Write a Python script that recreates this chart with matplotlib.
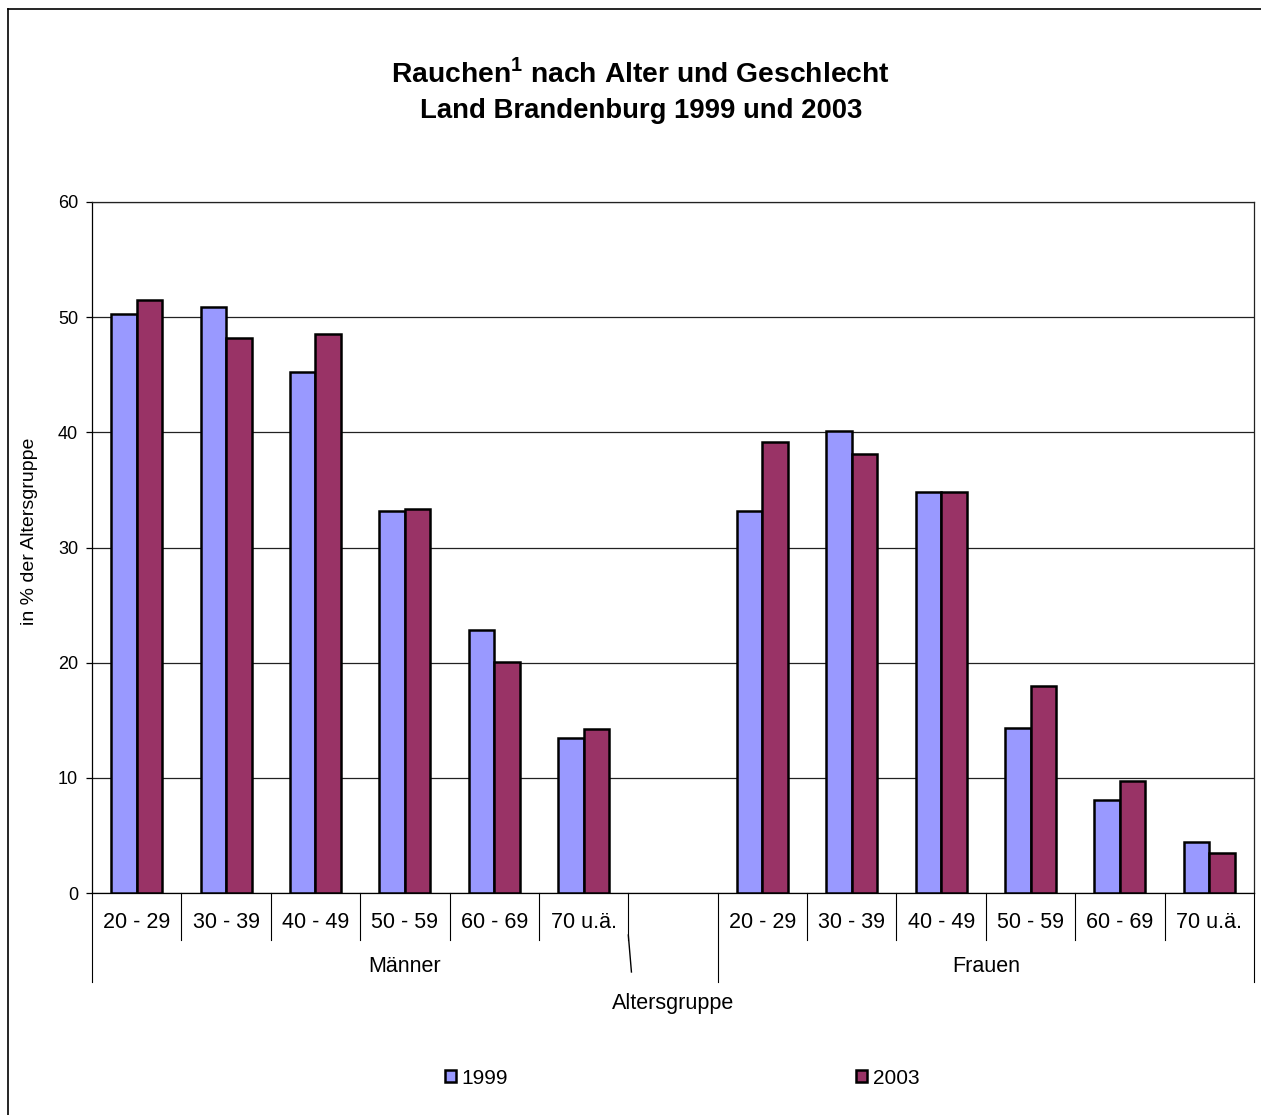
import numpy as np
import matplotlib
matplotlib.use("Agg")
import matplotlib.pyplot as plt
from matplotlib.lines import Line2D
import matplotlib.transforms as mtransforms

plt.rcParams['font.family'] = ['Liberation Sans', 'DejaVu Sans']

age_groups = ["20 - 29", "30 - 39", "40 - 49", "50 - 59", "60 - 69", "70 u.ä."]
groups = ["Männer", "Frauen"]
maenner_1999 = [50.3, 50.9, 45.2, 33.2, 22.8, 13.5]
maenner_2003 = [51.5, 48.2, 48.5, 33.3, 20.1, 14.2]
frauen_1999 = [33.2, 40.1, 34.8, 14.3, 8.1, 4.4]
frauen_2003 = [39.2, 38.1, 34.8, 18.0, 9.7, 3.5]
series_names = ["1999", "2003"]

labels = age_groups + [""] + age_groups
v1999 = np.array(maenner_1999 + [np.nan] + frauen_1999)
v2003 = np.array(maenner_2003 + [np.nan] + frauen_2003)
x = np.arange(len(labels))

fig = plt.figure(figsize=(12.61, 11.15), dpi=100)
ax = fig.add_axes([92/1261, 222/1115, 1162/1261, 691/1115])

bw = 0.286
b1 = ax.bar(x - bw/2, v1999, width=bw, color="#9999FF", edgecolor="black", linewidth=1.8, label=series_names[0], zorder=3)
b2 = ax.bar(x + bw/2, v2003, width=bw, color="#993366", edgecolor="black", linewidth=1.8, label=series_names[1], zorder=3)

ax.set_xlim(-0.5, len(labels) - 0.5)
ax.set_ylim(0, 60)
ax.set_yticks(np.arange(0, 61, 10))
ax.yaxis.grid(True, color="#222222", linewidth=0.9, zorder=0)
ax.set_axisbelow(True)
ax.tick_params(axis='y', labelsize=13, length=4, width=0.9, pad=6)
ax.set_xticks([])
for s in ["top", "right", "left", "bottom"]:
    ax.spines[s].set_linewidth(0.9)
    ax.spines[s].set_color("black")
ax.spines["top"].set_color("#222222")
ax.spines["right"].set_color("#222222")

ax.set_ylabel("in % der Altersgruppe", fontsize=14)
ax.yaxis.set_label_coords(-0.0465, 0.524)

trans = mtransforms.blended_transform_factory(ax.transData, ax.transAxes)
# category labels
for xi, lab in zip(x, labels):
    ax.text(xi, -0.0434, lab, transform=trans, ha="center", va="center", fontsize=15.5, clip_on=False)
# dividers
n = len(labels)
long_bounds = [0, 7, n]
for k in range(0, n + 1):
    xb = k - 0.5
    ybot = -0.1288 if k in long_bounds else -0.068
    ax.add_line(Line2D([xb, xb], [0, ybot], transform=trans, color="black", linewidth=0.8, clip_on=False))
# stray line
ax.add_line(Line2D([5.5, 5.535], [-0.0608, -0.1143], transform=trans, color="black", linewidth=1.0, clip_on=False))
# group labels
ax.text(3.0, -0.107, groups[0], transform=trans, ha="center", va="center", fontsize=15.5, clip_on=False)
ax.text(9.5, -0.107, groups[1], transform=trans, ha="center", va="center", fontsize=15.5, clip_on=False)

fig.text(673/1261, 1 - 1003/1115, "Altersgruppe", ha="center", va="center", fontsize=15.5)

fig.text(640/1261, 1 - 73/1115, r"Rauchen$^{\mathregular{1}}$ nach Alter und Geschlecht", ha="center", va="center",
         fontsize=20.3, fontweight="bold")
fig.text(641/1261, 1 - 111/1115, "Land Brandenburg 1999 und 2003", ha="center", va="center",
         fontsize=19.8, fontweight="bold")

leg = fig.legend(handles=[b1, b2], labels=series_names, loc="center", bbox_to_anchor=(682/1261, 1 - 1078/1115),
                 ncol=2, frameon=False, fontsize=15, handlelength=0.55, handleheight=0.55,
                 handletextpad=0.25, columnspacing=16.7)

# figure border (left and top)
fig.add_artist(Line2D([8/1261, 8/1261], [0, 1 - 9/1115], transform=fig.transFigure, color="black", linewidth=1.2))
fig.add_artist(Line2D([8/1261, 1], [1 - 9/1115, 1 - 9/1115], transform=fig.transFigure, color="black", linewidth=1.2))

fig.savefig("out.png", dpi=100, facecolor="white")
